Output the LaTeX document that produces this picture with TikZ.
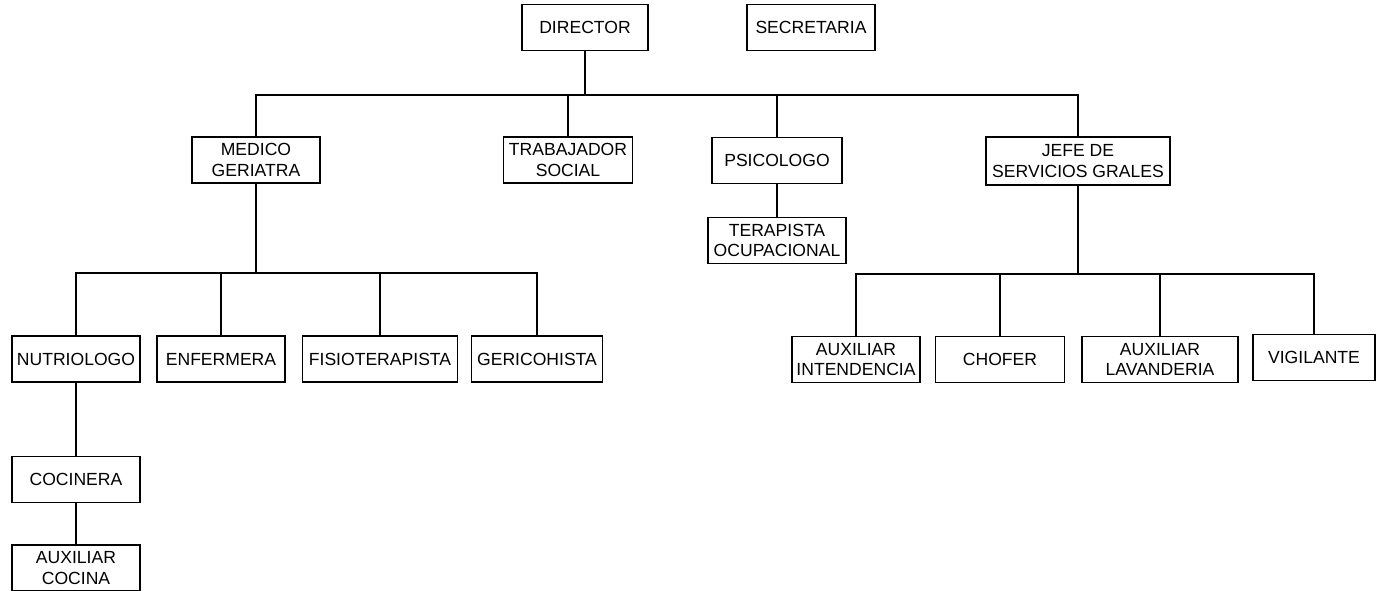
\documentclass[tikz,border=0pt]{standalone}
\usepackage{fontspec}
\setmainfont{Liberation Sans}

\begin{document}
\begin{tikzpicture}[x=0.02cm, y=-0.02cm, line width=1pt,
    puesto/.style={draw, line width=1pt, minimum width=2.56cm, minimum height=0.92cm, inner sep=1pt, align=center, font=\fontsize{10}{11.5}\selectfont}]
        \useasboundingbox (0,0) rectangle (1376,591);
        \node[puesto, minimum width=2.52cm] (dir) at (585,27.5) {DIRECTOR};
        \node[puesto] (sec) at (811,27.5) {SECRETARIA};
        \node[puesto] (med) at (256,160) {MEDICO\\GERIATRA};
        \node[puesto, minimum width=2.58cm] (trab) at (568,160) {TRABAJADOR\\SOCIAL};
        \node[puesto, minimum width=2.6cm] (psi) at (777,160.5) {PSICOLOGO};
        \node[puesto, minimum width=2.76cm] (ter) at (777,240.5) {TERAPISTA\\OCUPACIONAL};
        \node[puesto, minimum width=3.68cm, minimum height=0.96cm] (jefe) at (1078,161) {JEFE DE\\SERVICIOS GRALES};
        \node[puesto] (nut) at (76,359) {NUTRIOLOGO};
        \node[puesto] (enf) at (221,359) {ENFERMERA};
        \node[puesto, minimum width=3.1cm] (fis) at (380,359) {FISIOTERAPISTA};
        \node[puesto, minimum width=2.62cm] (ger) at (537,359) {GERICOHISTA};
        \node[puesto] (auxi) at (856,359.5) {AUXILIAR\\INTENDENCIA};
        \node[puesto, minimum width=2.58cm] (cho) at (1000,359.5) {CHOFER};
        \node[puesto, minimum width=3.12cm] (auxl) at (1160,359.5) {AUXILIAR\\LAVANDERIA};
        \node[puesto, minimum width=2.44cm] (vig) at (1314,357.5) {VIGILANTE};
        \node[puesto] (coc) at (76,479.5) {COCINERA};
        \node[puesto] (auxc) at (76,568) {AUXILIAR\\COCINA};
        \coordinate (t1) at (585,95);
        \coordinate (b1) at (256,273);
        \coordinate (b2) at (1078,274);
        \draw (dir) -- (t1);
        \draw (med) |- (t1) -| (jefe);
        \draw (trab) -- (trab |- t1);
        \draw (psi) -- (psi |- t1);
        \draw (psi) -- (ter);
        \draw (med) -- (b1);
        \draw (nut) |- (b1) -| (ger);
        \draw (enf) -- (enf |- b1);
        \draw (fis) -- (fis |- b1);
        \draw (nut) -- (coc);
        \draw (coc) -- (auxc);
        \draw (jefe) -- (b2);
        \draw (auxi) |- (b2) -| (vig);
        \draw (cho) -- (cho |- b2);
        \draw (auxl) -- (auxl |- b2);
    \end{tikzpicture}
\end{document}
